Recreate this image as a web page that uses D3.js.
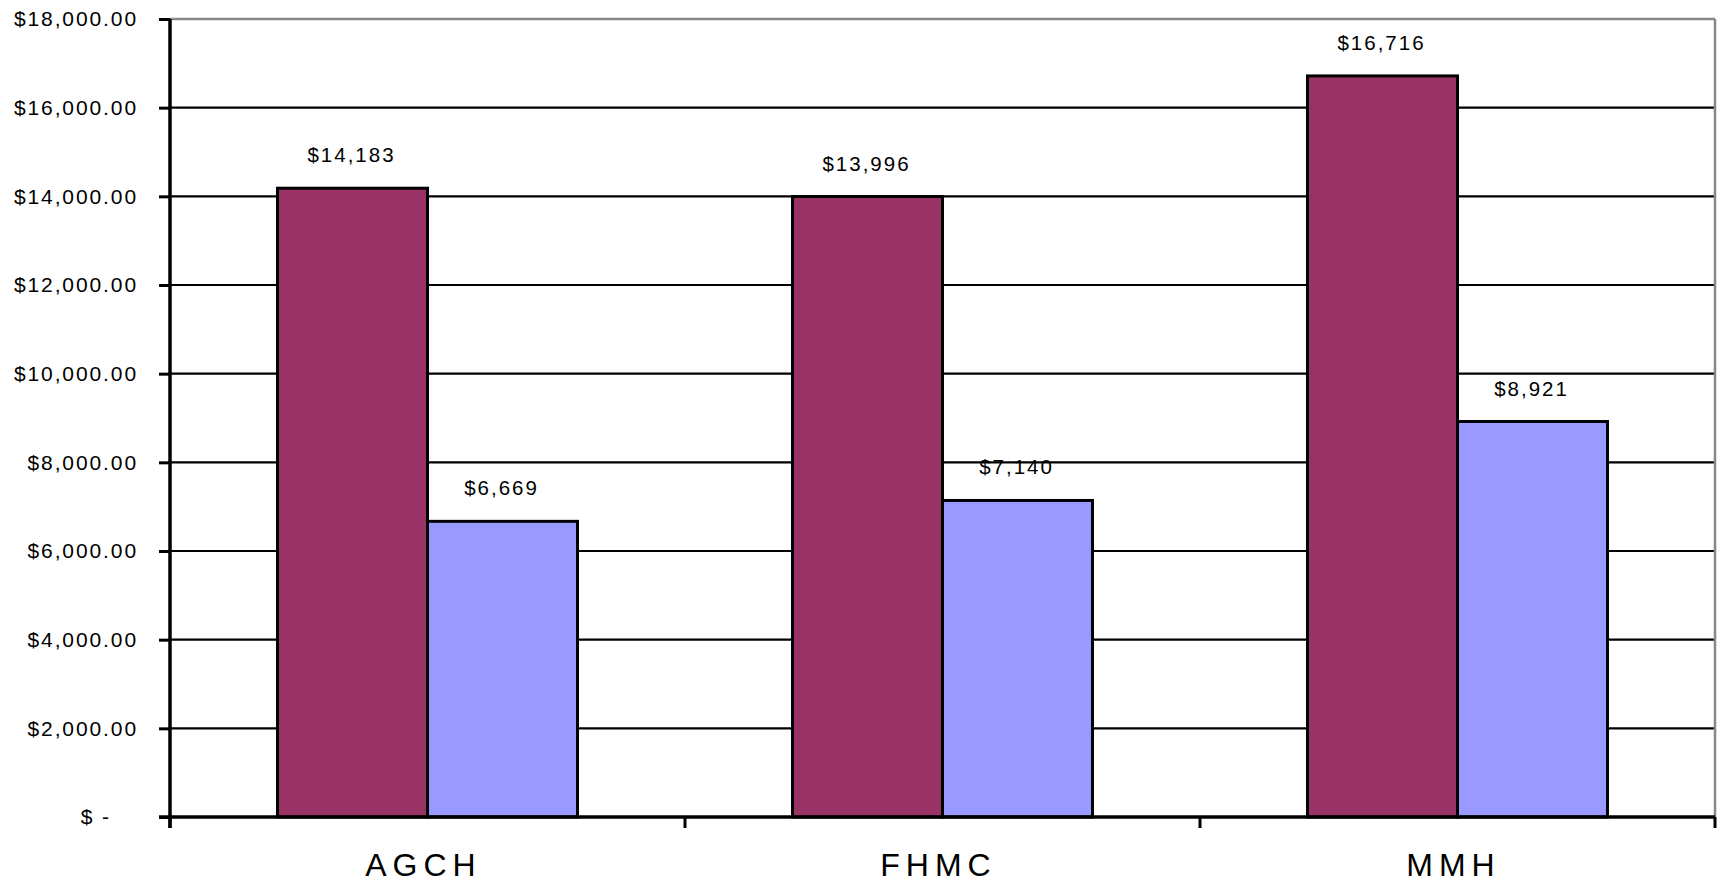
<!DOCTYPE html>
<html>
<head>
<meta charset="utf-8">
<script src="https://cdn.jsdelivr.net/npm/d3@7"></script>
<style>
  body { margin: 0; background: #fff; }
  text { font-family: "Liberation Sans", Arial, sans-serif; }
</style>
</head>
<body>
<div class="chart"></div>
<script>
// data
var categories = ["AGCH", "FHMC", "MMH"];
var seriesNames = ["Series1", "Series2"];
var series1 = [14183, 13996, 16716];
var series2 = [6669, 7140, 8921];
var yTicks = [0, 2000, 4000, 6000, 8000, 10000, 12000, 14000, 16000, 18000];
var seriesColors = ["#993366", "#9999FF"];

var svgWidth = 1717;
var svgHeight = 882;

var plot = { left: 170, right: 1715, top: 19, bottom: 817 };

var svg = d3.select(".chart")
  .append("svg")
  .attr("width", svgWidth)
  .attr("height", svgHeight);

var data = categories.map(function(c, i) {
  return { cat: c, values: [series1[i], series2[i]] };
});

var x0 = d3.scaleBand()
  .domain(categories)
  .range([plot.left, plot.right])
  .paddingInner(0.4175)
  .paddingOuter(0.20875);

var x1 = d3.scaleBand()
  .domain(seriesNames)
  .range([0, x0.bandwidth()]);

var y = d3.scaleLinear()
  .domain([0, 18000])
  .range([plot.bottom, plot.top]);

var money = d3.format("$,.2f");
var moneyInt = d3.format("$,.0f");

// gridlines
svg.append("g")
  .selectAll("line")
  .data(yTicks.filter(function(d) { return d > 0; }))
  .enter().append("line")
  .attr("x1", plot.left)
  .attr("x2", plot.right)
  .attr("y1", function(d) { return y(d); })
  .attr("y2", function(d) { return y(d); })
  .attr("stroke", function(d) { return d === 18000 ? "#888" : "#000"; })
  .attr("stroke-width", function(d) { return d === 18000 ? 2.5 : 2.2; });

// right border of plot area
svg.append("line")
  .attr("x1", plot.right).attr("x2", plot.right)
  .attr("y1", plot.top).attr("y2", plot.bottom)
  .attr("stroke", "#888")
  .attr("stroke-width", 2.5);

// bars
var groups = svg.append("g")
  .selectAll("g")
  .data(data)
  .enter().append("g")
  .attr("transform", function(d) { return "translate(" + x0(d.cat) + ",0)"; });

groups.selectAll("rect")
  .data(function(d) { return d.values.map(function(v, i) { return { name: seriesNames[i], v: v, i: i }; }); })
  .enter().append("rect")
  .attr("x", function(d) { return x1(d.name); })
  .attr("width", x1.bandwidth())
  .attr("y", function(d) { return y(d.v); })
  .attr("height", function(d) { return y(0) - y(d.v); })
  .attr("fill", function(d) { return seriesColors[d.i]; })
  .attr("stroke", "#000")
  .attr("stroke-width", 3);

groups.selectAll("text.val")
  .data(function(d) { return d.values.map(function(v, i) { return { name: seriesNames[i], v: v }; }); })
  .enter().append("text")
  .attr("class", "val")
  .attr("x", function(d) { return x1(d.name) + x1.bandwidth() / 2; })
  .attr("y", function(d) { return y(d.v) - 26; })
  .attr("dx", -1)
  .attr("text-anchor", "middle")
  .attr("font-size", 20.5)
  .attr("letter-spacing", 2)
  .text(function(d) { return moneyInt(d.v); });

// y axis
var leftAxis = d3.axisLeft(y)
  .tickValues(yTicks)
  .tickSize(11)
  .tickPadding(21)
  .tickFormat(function(d) { return d === 0 ? "$ -" : money(d); });

var yAxis = svg.append("g")
  .attr("transform", "translate(" + plot.left + ",0)")
  .call(leftAxis);
yAxis.select(".domain").remove();
yAxis.selectAll(".tick line").attr("stroke", "#000").attr("stroke-width", 3);
yAxis.selectAll(".tick text")
  .attr("fill", "#000")
  .attr("font-size", 21)
  .attr("letter-spacing", 1.9)
  .attr("dx", function(d) { return d === 0 ? -27 : 0; })
  .style("font-family", "'Liberation Sans', Arial, sans-serif");

svg.append("line")
  .attr("x1", plot.left).attr("x2", plot.left)
  .attr("y1", plot.top).attr("y2", plot.bottom + 11)
  .attr("stroke", "#000")
  .attr("stroke-width", 3.5);

// x axis baseline and band ticks
svg.append("line")
  .attr("x1", plot.left - 11).attr("x2", plot.right)
  .attr("y1", plot.bottom).attr("y2", plot.bottom)
  .attr("stroke", "#000")
  .attr("stroke-width", 3.5);

var bounds = d3.range(categories.length + 1).map(function(i) { return plot.left + i * x0.step(); });
svg.append("g")
  .selectAll("line")
  .data(bounds)
  .enter().append("line")
  .attr("x1", function(d) { return d; })
  .attr("x2", function(d) { return d; })
  .attr("y1", plot.bottom)
  .attr("y2", plot.bottom + 11)
  .attr("stroke", "#000")
  .attr("stroke-width", 3);

svg.append("g")
  .selectAll("text")
  .data(categories)
  .enter().append("text")
  .attr("x", function(d) { return x0(d) + x0.bandwidth() / 2; })
  .attr("y", 876)
  .attr("dx", -4)
  .attr("text-anchor", "middle")
  .attr("font-size", 32)
  .attr("letter-spacing", 6)
  .text(function(d) { return d; });
</script>
</body>
</html>
